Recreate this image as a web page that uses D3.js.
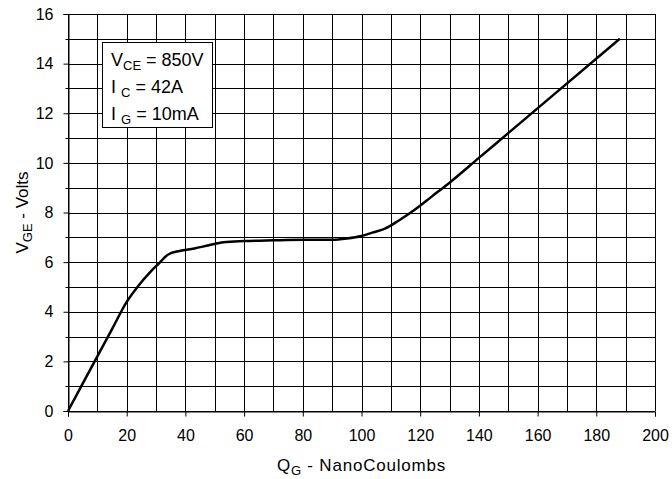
<!DOCTYPE html>
<html>
<head>
<meta charset="utf-8">
<script src="https://cdn.jsdelivr.net/npm/d3@7/dist/d3.min.js"></script>
<style>
  html, body { margin: 0; padding: 0; background: #fff; }
  svg { display: block; font-family: "Liberation Sans", Arial, sans-serif; }
</style>
</head>
<body>
<svg id="chart" width="672" height="479"></svg>
<script>
// Data
const qValues = [0, 5, 10, 15, 20, 24, 28, 31, 34, 38, 43, 48, 53, 60, 70, 80, 90, 95, 100, 104, 108, 113, 118, 124, 130, 140, 150, 165, 188];
const vValues = [0, 1.1, 2.2, 3.3, 4.4, 5.05, 5.6, 5.95, 6.3, 6.45, 6.55, 6.68, 6.8, 6.85, 6.88, 6.9, 6.9, 6.95, 7.05, 7.2, 7.35, 7.7, 8.1, 8.65, 9.2, 10.2, 11.2, 12.7, 15.0];
const xTicks = [0, 20, 40, 60, 80, 100, 120, 140, 160, 180, 200];
const yTicks = [0, 2, 4, 6, 8, 10, 12, 14, 16];
const legendLines = [
  { main: "V", sub: "CE", rest: " = 850V" },
  { main: "I ", sub: "C", rest: " = 42A" },
  { main: "I ", sub: "G", rest: " = 10mA" }
];

const svg = d3.select("#chart");
const margin = { left: 68, right: 17, top: 14, bottom: 68 };
const W = 672, H = 479;
const x = d3.scaleLinear().domain([0, 200]).range([margin.left, W - margin.right]);
const y = d3.scaleLinear().domain([0, 16]).range([H - margin.bottom, margin.top]);

// grid
const g = svg.append("g");
g.selectAll("line.vg").data(d3.range(0, 201, 10)).enter().append("line")
  .attr("x1", d => Math.round(x(d)) + 0.5).attr("x2", d => Math.round(x(d)) + 0.5)
  .attr("y1", y(0)).attr("y2", y(16))
  .attr("stroke", "#000").attr("stroke-width", 1);
g.selectAll("line.hg").data(d3.range(0, 17, 1)).enter().append("line")
  .attr("y1", d => Math.round(y(d)) + 0.5).attr("y2", d => Math.round(y(d)) + 0.5)
  .attr("x1", x(0)).attr("x2", x(200))
  .attr("stroke", "#000").attr("stroke-width", 1);

// axes
const xAxis = d3.axisBottom(x).tickValues(xTicks).tickSize(5).tickPadding(13).tickFormat(d3.format("d"));
const yAxis = d3.axisLeft(y).tickValues(yTicks).tickSize(5).tickPadding(10).tickFormat(d3.format("d"));
const xa = svg.append("g").attr("transform", `translate(0,${Math.round(y(0)) + 0.5})`).call(xAxis);
const ya = svg.append("g").attr("transform", `translate(${Math.round(x(0)) + 0.5},0)`).call(yAxis);
[xa, ya].forEach(a => {
  a.select(".domain").attr("stroke", "#000");
  a.selectAll(".tick line").attr("stroke", "#000");
  a.selectAll("text").attr("font-size", 16).attr("fill", "#000")
    .attr("font-family", "'Liberation Sans', Arial, sans-serif");
});
// minor y ticks
svg.selectAll("line.ym").data(d3.range(1, 16, 2)).enter().append("line")
  .attr("x1", Math.round(x(0)) + 0.5 - 3).attr("x2", Math.round(x(0)) + 0.5)
  .attr("y1", d => Math.round(y(d)) + 0.5).attr("y2", d => Math.round(y(d)) + 0.5)
  .attr("stroke", "#000");

// curve
const line = d3.line().x((d, i) => x(qValues[i])).y((d, i) => y(vValues[i])).curve(d3.curveMonotoneX);
svg.append("path").datum(vValues).attr("d", line)
  .attr("fill", "none").attr("stroke", "#000").attr("stroke-width", 2.5)
  .attr("stroke-linejoin", "round");

// legend box
const lb = svg.append("g");
lb.append("rect").attr("x", 102.5).attr("y", 42.5).attr("width", 110).attr("height", 85)
  .attr("fill", "#fff").attr("stroke", "#000").attr("stroke-width", 1);
legendLines.forEach((l, i) => {
  const t = lb.append("text").attr("x", 111).attr("y", 66 + i * 27)
    .attr("font-size", 18).attr("fill", "#000");
  t.append("tspan").text(l.main);
  t.append("tspan").attr("font-size", 13).attr("dy", 4).text(l.sub);
  t.append("tspan").attr("dy", -4).text(l.rest);
});

// axis titles
const xt = svg.append("text").attr("x", (x(0) + x(200)) / 2).attr("y", 471)
  .attr("text-anchor", "middle").attr("font-size", 17).attr("letter-spacing", 0.8).attr("fill", "#000");
xt.append("tspan").text("Q");
xt.append("tspan").attr("font-size", 13).attr("dy", 4).text("G");
xt.append("tspan").attr("dy", -4).text(" - NanoCoulombs");

const yt = svg.append("text").attr("transform", `translate(28,${(y(0) + y(16)) / 2}) rotate(-90)`)
  .attr("text-anchor", "middle").attr("font-size", 17).attr("fill", "#000");
yt.append("tspan").text("V");
yt.append("tspan").attr("font-size", 13).attr("dy", 4).text("GE");
yt.append("tspan").attr("dy", -4).text(" - Volts");
</script>
</body>
</html>
